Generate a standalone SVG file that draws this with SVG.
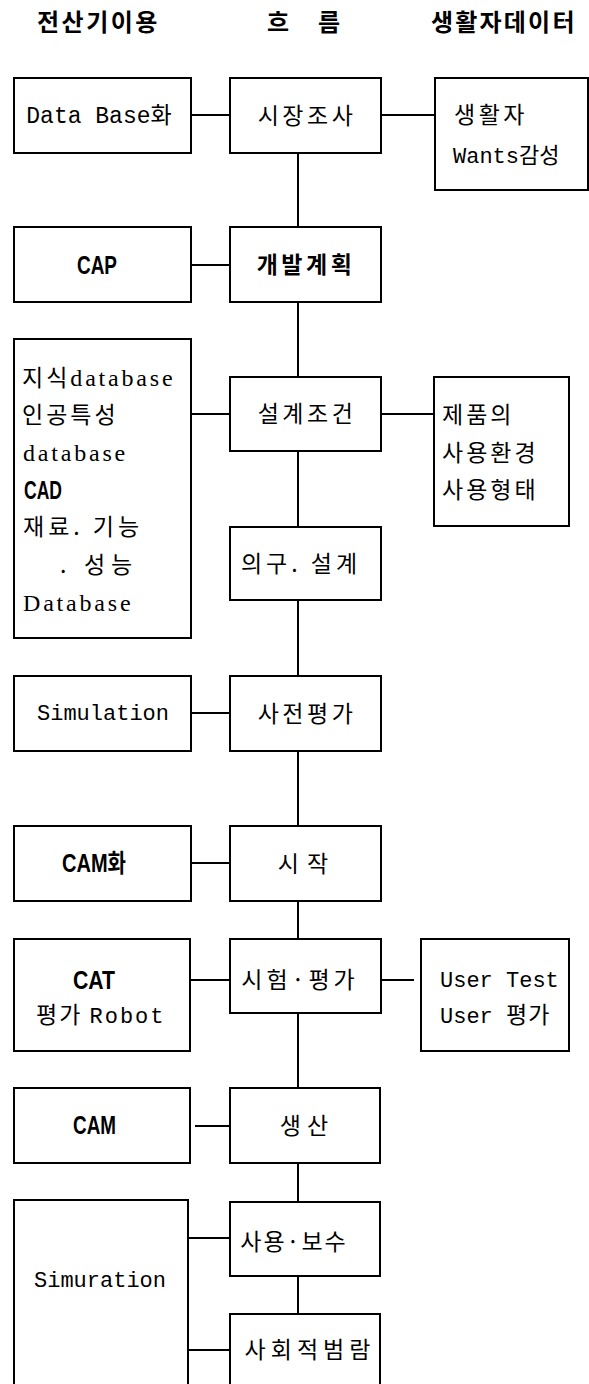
<svg xmlns="http://www.w3.org/2000/svg" width="589" height="1384" viewBox="0 0 589 1384">
<style>
rect{fill:#fff;stroke:#000;stroke-width:2}
#connectors line{stroke:#000;stroke-width:2}
text{fill:#000}
.hd{font-family:"Noto Sans CJK KR",sans-serif;font-size:24px;font-weight:700;letter-spacing:2.5px}
.ko{font-family:"Noto Sans CJK KR",sans-serif;font-size:23px;letter-spacing:3.5px}
.kob{font-family:"Noto Sans CJK KR",sans-serif;font-size:23px;font-weight:700;letter-spacing:3.5px}
.mono{font-family:"Liberation Mono","Noto Sans CJK KR",monospace;font-size:22px}
.ser{font-family:"Liberation Serif","Noto Sans CJK KR",serif;font-size:24px;letter-spacing:2.8px}
.bc{font-family:"Liberation Sans","Noto Sans CJK KR",sans-serif;font-size:25px;font-weight:700}
.m{text-anchor:middle}
</style>
<g id="headers">
<text class="hd" x="37" y="31">전산기이용</text>
<text class="hd" x="267 293 318" y="31">흐 름</text>
<text class="hd" x="431" y="31" style="letter-spacing:2.2px">생활자데이터</text>
</g>
<g id="connectors">
<line x1="191" y1="115" x2="230" y2="115"/>
<line x1="381" y1="115" x2="435" y2="115"/>
<line x1="298" y1="153" x2="298" y2="227"/>
<line x1="191" y1="265" x2="230" y2="265"/>
<line x1="298" y1="302" x2="298" y2="377"/>
<line x1="191" y1="414" x2="230" y2="414"/>
<line x1="381" y1="414" x2="434" y2="414"/>
<line x1="298" y1="451" x2="298" y2="527"/>
<line x1="298" y1="600" x2="298" y2="676"/>
<line x1="191" y1="713" x2="230" y2="713"/>
<line x1="298" y1="751" x2="298" y2="826"/>
<line x1="191" y1="863" x2="230" y2="863"/>
<line x1="298" y1="901" x2="298" y2="939"/>
<line x1="190" y1="980" x2="230" y2="980"/>
<line x1="381" y1="980" x2="414" y2="980"/>
<line x1="298" y1="1013" x2="298" y2="1088"/>
<line x1="195" y1="1126" x2="230" y2="1126"/>
<line x1="298" y1="1163" x2="298" y2="1202"/>
<line x1="188" y1="1238" x2="230" y2="1238"/>
<line x1="298" y1="1276" x2="298" y2="1314"/>
<line x1="188" y1="1350" x2="230" y2="1350"/>
</g>
<g id="n-database">
<rect x="14" y="78" width="177" height="75"/>
<text class="mono m" x="99" y="123" style="font-size:23px">Data Base화</text>
</g>
<g id="n-market">
<rect x="230" y="78" width="151" height="75"/>
<text class="ko m" x="307" y="124">시장조사</text>
</g>
<g id="n-wants">
<rect x="435" y="78" width="153" height="112"/>
<text class="ko" x="454" y="123">생활자</text>
<text class="mono" x="453" y="163">Wants감성</text>
</g>
<g id="n-cap">
<rect x="14" y="227" width="177" height="75"/>
<text class="bc" x="77" y="274" textLength="40" lengthAdjust="spacingAndGlyphs">CAP</text>
</g>
<g id="n-plan">
<rect x="230" y="227" width="151" height="75"/>
<text class="kob m" x="306" y="273">개발계획</text>
</g>
<g id="n-knowledge">
<rect x="14" y="339" width="177" height="299"/>
<text class="ser" x="22" y="386"><tspan class="ko" style="letter-spacing:3px">지식</tspan>database</text>
<text class="ko" x="22" y="423" style="letter-spacing:3px">인공특성</text>
<text class="ser" x="23" y="461">database</text>
<text class="bc" x="24" y="499" textLength="38" lengthAdjust="spacingAndGlyphs">CAD</text>
<text class="ko" x="23" y="535" style="letter-spacing:4px">재료. 기능</text>
<text class="ko" x="60 70 84 111" y="573" style="letter-spacing:0">. 성능</text>
<text class="ser" x="23" y="611">Database</text>
</g>
<g id="n-cond">
<rect x="230" y="377" width="151" height="74"/>
<text class="ko m" x="307" y="422">설계조건</text>
</g>
<g id="n-env">
<rect x="434" y="377" width="135" height="149"/>
<text class="ko" x="442" y="423" style="letter-spacing:3px">제품의</text>
<text class="ko" x="442" y="461" style="letter-spacing:3px">사용환경</text>
<text class="ko" x="442" y="498" style="letter-spacing:3px">사용형태</text>
</g>
<g id="n-design">
<rect x="230" y="527" width="151" height="73"/>
<text class="ko m" x="301" y="572" style="letter-spacing:4px">의구. 설계</text>
</g>
<g id="n-simulation">
<rect x="14" y="676" width="177" height="75"/>
<text class="mono m" x="103" y="720">Simulation</text>
</g>
<g id="n-preeval">
<rect x="230" y="676" width="151" height="75"/>
<text class="ko m" x="307" y="722">사전평가</text>
</g>
<g id="n-camhwa">
<rect x="14" y="826" width="177" height="75"/>
<text class="bc" x="62" y="872" textLength="64" lengthAdjust="spacingAndGlyphs">CAM화</text>
</g>
<g id="n-start">
<rect x="230" y="826" width="151" height="75"/>
<text class="ko m" x="307" y="872" style="letter-spacing:8px">시작</text>
</g>
<g id="n-cat">
<rect x="14" y="939" width="176" height="112"/>
<text class="bc" x="73" y="989" textLength="42" lengthAdjust="spacingAndGlyphs">CAT</text>
<text class="ko" x="36" y="1023" style="letter-spacing:2px">평가 <tspan class="mono" style="letter-spacing:2px">Robot</tspan></text>
</g>
<g id="n-test">
<rect x="230" y="939" width="151" height="74"/>
<text class="ko m" x="300" y="988" style="letter-spacing:4px">시험·평가</text>
</g>
<g id="n-user">
<rect x="421" y="939" width="148" height="112"/>
<text class="mono" x="440" y="987">User Test</text>
<text class="mono" x="440" y="1023">User <tspan class="ko" style="letter-spacing:1px">평가</tspan></text>
</g>
<g id="n-cam">
<rect x="14" y="1088" width="176" height="75"/>
<text class="bc" x="73" y="1134" textLength="43" lengthAdjust="spacingAndGlyphs">CAM</text>
</g>
<g id="n-production">
<rect x="230" y="1088" width="150" height="75"/>
<text class="ko m" x="307" y="1134" style="letter-spacing:6px">생산</text>
</g>
<g id="n-simuration">
<rect x="14" y="1200" width="174" height="200"/>
<text class="mono m" x="100" y="1287">Simuration</text>
</g>
<g id="n-maintenance">
<rect x="230" y="1202" width="150" height="74"/>
<text class="ko m" x="294" y="1250" style="letter-spacing:2px">사용·보수</text>
</g>
<g id="n-social">
<rect x="230" y="1314" width="150" height="90"/>
<text class="ko m" x="310" y="1358" style="letter-spacing:5px">사회적범람</text>
</g>
</svg>
